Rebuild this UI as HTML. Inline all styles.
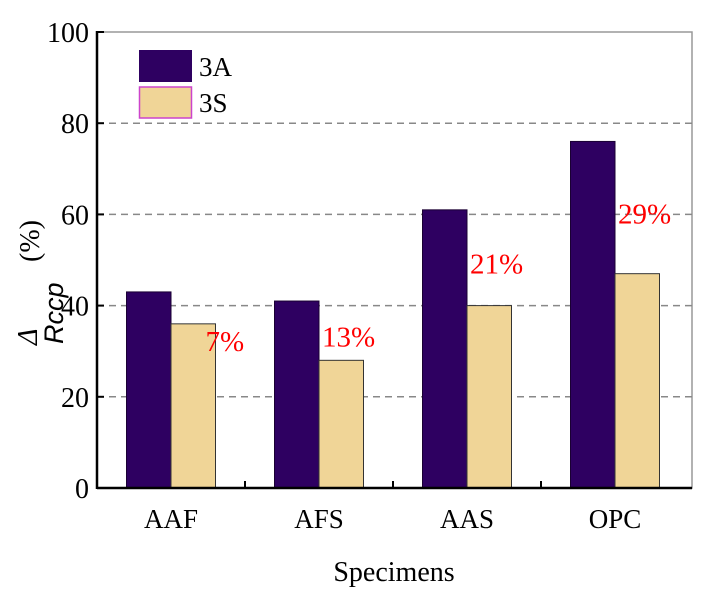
<!DOCTYPE html>
<html><head><meta charset="utf-8"><style>
body{margin:0;background:#fff}
svg text{font-family:"Liberation Serif",serif}
</style></head><body>
<svg id="c" width="716" height="587" xmlns="http://www.w3.org/2000/svg"></svg>
<script>
const categories=["AAF","AFS","AAS","OPC"];
const series3A=[43,41,61,76];
const series3S=[36,28,40,47];
const diffLabels=["7%","13%","21%","29%"];
const yTicks=[0,20,40,60,80,100];
const NS="http://www.w3.org/2000/svg";
const svg=document.getElementById('c');
const L=97,R=689,T=32,B=488;
const y=v=>B-(v/100)*(B-T);
const band=(R-L)/categories.length;
const cx=i=>L+band*(i+0.5);
const bw=44.5;
function mk(tag,at,txt){const e=document.createElementNS(NS,tag);for(const k in at)e.setAttribute(k,at[k]);if(txt!=null)e.textContent=txt;svg.appendChild(e);return e;}
let e;
e=mk('rect',{x:L,y:T,width:R+3-L,height:B-T,fill:'none',stroke:'#999','stroke-width':1.5});


yTicks.forEach(t=>{
 if(t>0&&t<100){e=mk('line',{x1:L,x2:R+3,y1:y(t),y2:y(t),stroke:'#888','stroke-width':1.5,'stroke-dasharray':'7,5'});
 
 }
 e=mk('line',{x1:L,x2:L+7,y1:y(t),y2:y(t),stroke:'#000','stroke-width':2});
 
 
 e=mk('text',{x:L-8,y:y(t)+10,'text-anchor':'end','font-size':28},t);
 
 
});
categories.forEach((c,i)=>{
 e=mk('rect',{x:cx(i)-bw,y:y(series3A[i]),width:bw,height:B-y(series3A[i]),fill:'#2e0061',stroke:'#1a0033','stroke-width':1});
 
 
 e=mk('rect',{x:cx(i),y:y(series3S[i]),width:bw,height:B-y(series3S[i]),fill:'#f0d597',stroke:'#333','stroke-width':1});
 
 
 e=mk('text',{x:cx(i),y:B+40,'text-anchor':'middle','font-size':27},c);
 
 
 if(i<categories.length-1){e=mk('line',{x1:L+band*(i+1),x2:L+band*(i+1),y1:B,y2:B-7,stroke:'#000','stroke-width':2});
 
 }
 const mid=y((series3A[i]+series3S[i])/2)+16;
 const ly=i===0?y(series3S[i])+27:mid;
 const lx=i===0?cx(i)+bw-10:cx(i)+3;
 e=mk('text',{x:lx,y:ly,'font-size':29,fill:'#ff0000'},diffLabels[i]);
 
 
});
e=mk('line',{x1:L,x2:L,y1:T-1,y2:B+1,stroke:'#000','stroke-width':2.5});


e=mk('line',{x1:L,x2:R+3,y1:B,y2:B,stroke:'#000','stroke-width':2.5});


e=mk('rect',{x:139,y:50,width:53,height:32,fill:'#2e0061'});


e=mk('text',{x:199,y:76,'font-size':27},'3A');


e=mk('rect',{x:139.5,y:87,width:52,height:31,fill:'#f0d597',stroke:'#cc44cc','stroke-width':1.5});


e=mk('text',{x:199,y:112,'font-size':27},'3S');


e=mk('text',{x:394,y:581,'text-anchor':'middle','font-size':28},'Specimens');


e=mk('text',{x:0,y:0,'font-size':28,transform:'translate(37,345) rotate(-90)','font-style':'italic'},'Δ');


e=mk('text',{x:0,y:0,'font-size':27,transform:'translate(63,344) rotate(-90)','font-style':'italic','style':'font-family:"Liberation Sans",sans-serif'},'Rccp');


e=mk('text',{x:0,y:0,'font-size':28,transform:'translate(39,262) rotate(-90)'},'(%)');


</script>
</body></html>
